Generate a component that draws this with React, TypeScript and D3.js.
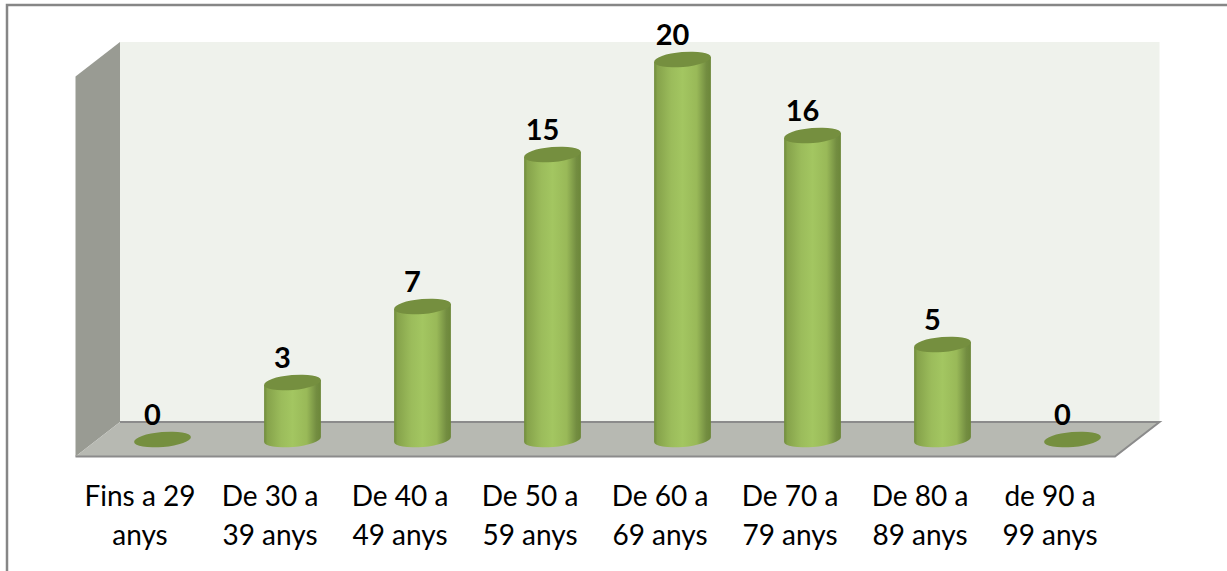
import * as d3 from 'd3';

const ageLinesTop = ['Fins a 29', 'De 30 a', 'De 40 a', 'De 50 a', 'De 60 a', 'De 70 a', 'De 80 a', 'de 90 a'];
const ageLinesBottom = ['anys', '39 anys', '49 anys', '59 anys', '69 anys', '79 anys', '89 anys', '99 anys'];
const counts = [0, 3, 7, 15, 20, 16, 5, 0];

const width = 1227;
const height = 571;
const depthX = 44.5;
const depthY = 34.5;
const wallLeft = 120;
const wallRight = 1159.5;
const wallTop = 42;
const wallBottom = 422;
const tilt = -5;
const barRx = 28.5;
const barRy = 7.5;

const xScale = d3
    .scaleBand<number>()
    .domain(d3.range(counts.length))
    .range([97.5, 1137.5]);

const yScale = d3.scaleLinear().domain([0, 20]).range([439.5, 59.5]);

const wallPoints = (pts: number[][]) => pts.map((p) => p.join(',')).join(' ');

// body of the cylinder, from the top rim down round the base
function cylinderPath(cx: number, topY: number, baseY: number) {
    const dx = barRx * Math.cos((tilt * Math.PI) / 180);
    const dy = barRx * Math.sin((tilt * Math.PI) / 180);
    const path = d3.path();
    path.moveTo(cx - dx, topY - dy);
    path.lineTo(cx - dx, baseY - dy);
    return (
        path.toString() +
        `A${barRx},${barRy} ${tilt} 0 0 ${cx + dx},${baseY + dy}` +
        `L${cx + dx},${topY + dy}Z`
    );
}

export default function App() {
    const baseY = yScale(0);
    return (
        <svg
            width={width}
            height={height}
            style={{ position: 'absolute', left: 0, top: 0, background: '#fff' }}
            fontFamily="Lato, 'Open Sans', sans-serif">
            <defs>
                <linearGradient id="cyl" x1="0" x2="1" y1="0" y2="0">
                    <stop offset="0" stopColor="#6f8b3b" />
                    <stop offset="0.06" stopColor="#86a34b" />
                    <stop offset="0.3" stopColor="#9bbc5b" />
                    <stop offset="0.5" stopColor="#a3c661" />
                    <stop offset="0.75" stopColor="#99b958" />
                    <stop offset="0.92" stopColor="#738d41" />
                    <stop offset="1" stopColor="#6c8739" />
                </linearGradient>
            </defs>

            {/* outer frame runs off the page on the right and bottom */}
            <rect x={7} y={5} width={1240} height={590} fill="#fff" stroke="#868686" strokeWidth={2.5} />

            {/* back wall, side wall, floor */}
            <rect x={wallLeft} y={wallTop} width={wallRight - wallLeft} height={wallBottom - wallTop} fill="#eff2ec" />
            <polygon
                points={wallPoints([
                    [wallLeft - depthX, wallTop + depthY],
                    [wallLeft, wallTop],
                    [wallLeft, wallBottom],
                    [wallLeft - depthX, wallBottom + depthY],
                ])}
                fill="#999b93"
            />
            <polygon
                points={wallPoints([
                    [wallLeft, wallBottom],
                    [wallRight, wallBottom],
                    [wallRight - depthX, wallBottom + depthY],
                    [wallLeft - depthX, wallBottom + depthY],
                ])}
                fill="#b7b9b2"
            />
            <polyline
                points={wallPoints([
                    [wallLeft - depthX, wallBottom + depthY],
                    [wallRight - depthX, wallBottom + depthY],
                    [wallRight, wallBottom],
                    [wallLeft, wallBottom],
                ])}
                fill="none"
                stroke="#8b8b8b"
                strokeWidth={2}
            />

            {counts.map((value, i) => {
                const cx = (xScale(i) as number) + xScale.bandwidth() / 2;
                const topY = yScale(value);
                return (
                    <g key={i}>
                        {value > 0 && <path d={cylinderPath(cx, topY, baseY)} fill="url(#cyl)" />}
                        <ellipse
                            cx={cx}
                            cy={topY}
                            rx={barRx}
                            ry={barRy}
                            fill="#758f3f"
                            transform={`rotate(${tilt} ${cx} ${topY})`}
                        />
                        <text
                            x={cx - 10}
                            y={topY - 14.5}
                            textAnchor="middle"
                            fontSize={29}
                            fontWeight={700}
                            fill="#000">
                            {value}
                        </text>
                        <text x={cx - 22.5} y={506} textAnchor="middle" fontSize={28} fill="#000">
                            {ageLinesTop[i]}
                        </text>
                        <text x={cx - 22.5} y={544.5} textAnchor="middle" fontSize={28} fill="#000">
                            {ageLinesBottom[i]}
                        </text>
                    </g>
                );
            })}
        </svg>
    );
}
